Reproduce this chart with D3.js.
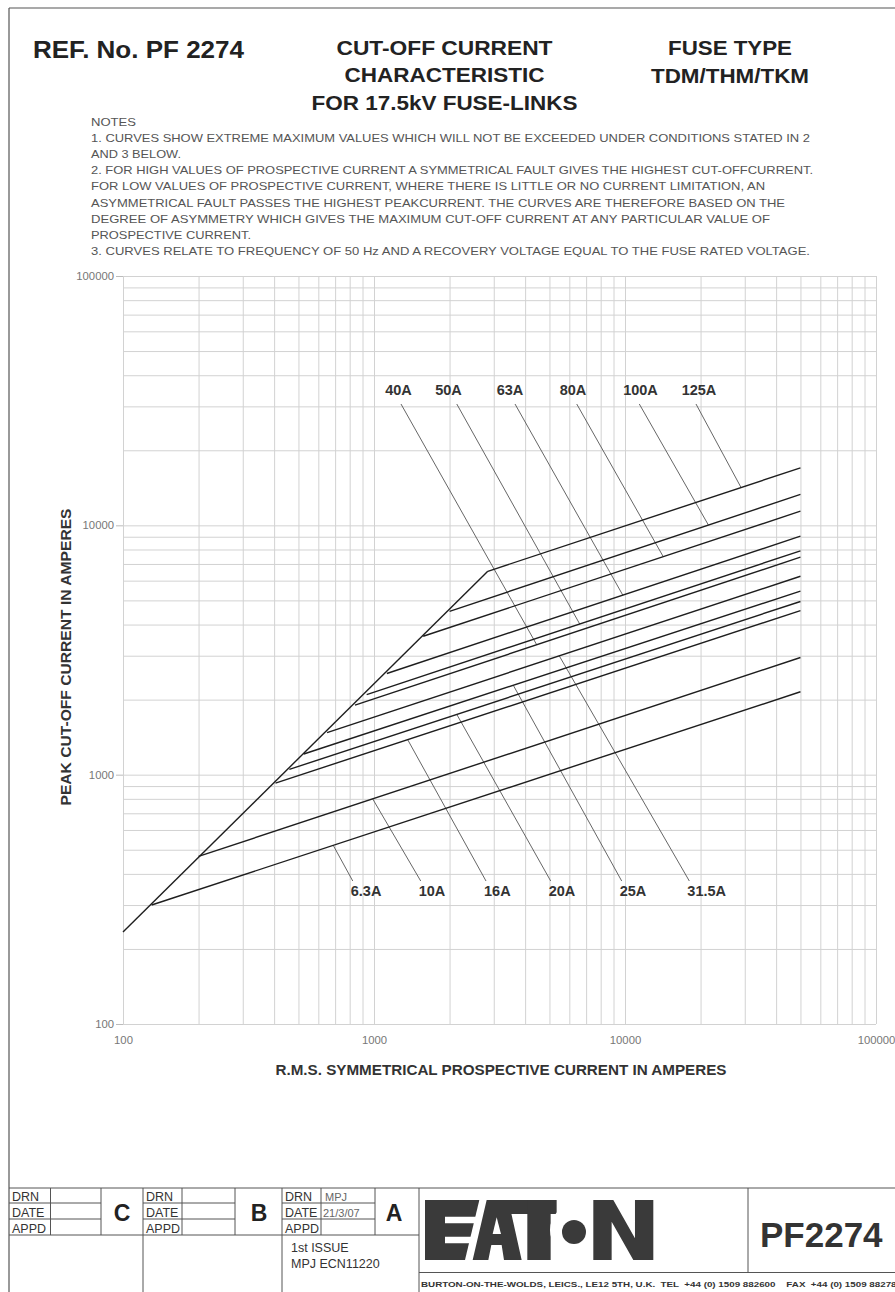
<!DOCTYPE html>
<html>
<head>
<meta charset="utf-8">
<script src="https://cdn.jsdelivr.net/npm/d3@7"></script>
<style>
body { margin: 0; background: #fff; }
text { font-family: "Liberation Sans", Arial, sans-serif; }
</style>
</head>
<body>
<div id="sheet"></div>
<script>
// fuse ratings and the points (amperes)
let ratings = ["6.3A", "10A", "16A", "20A", "25A", "31.5A", "40A", "50A", "63A", "80A", "100A", "125A"];
let breakCurrent = [130, 200, 405, 460, 525, 650, 840, 935, 1125, 1570, 2000, 2840];
let breakPeak = [300, 470, 925, 1050, 1210, 1475, 1900, 2095, 2545, 3590, 4520, 6540];
let endCurrent = 50000;
let endPeak = [2150, 2950, 4550, 4950, 5450, 6250, 7450, 7900, 9050, 11400, 13300, 17000];
let envelopeCurrent = [100, 2840];
let envelopePeak = [234, 6540];

// label leaders: prospective current where the leader leaves the label / meets the curve
let leaderFrom = [823, 1535, 2794, 5058, 9701, 18040, 1281, 2137, 3646, 6422, 11402, 19180];
let leaderTo = [688, 988, 1362, 2137, 3589, 5472, 4450, 6600, 9800, 14200, 21500, 29000];
let topLabelAt = [1252, 1981, 3483, 6206, 11530, 19720];

let xTicks = [100, 1000, 10000, 100000];
let yTicks = [100, 1000, 10000, 100000];

let notes = [
    "NOTES",
    "1. CURVES SHOW EXTREME MAXIMUM VALUES WHICH WILL NOT BE EXCEEDED UNDER CONDITIONS STATED IN 2",
    "AND 3 BELOW.",
    "2. FOR HIGH VALUES OF PROSPECTIVE CURRENT A SYMMETRICAL FAULT GIVES THE HIGHEST CUT-OFFCURRENT.",
    "FOR LOW VALUES OF PROSPECTIVE CURRENT, WHERE THERE IS LITTLE OR NO CURRENT LIMITATION, AN",
    "ASYMMETRICAL FAULT PASSES THE HIGHEST PEAKCURRENT. THE CURVES ARE THEREFORE BASED ON THE",
    "DEGREE OF ASYMMETRY WHICH GIVES THE MAXIMUM CUT-OFF CURRENT AT ANY PARTICULAR VALUE OF",
    "PROSPECTIVE CURRENT.",
    "3. CURVES RELATE TO FREQUENCY OF 50 Hz AND A RECOVERY VOLTAGE EQUAL TO THE FUSE RATED VOLTAGE."
];
let noteWidths = [45, 719, 90, 722, 674, 694, 679, 160, 719];

let W = 895, H = 1292;

let svg = d3.select("#sheet")
    .append("svg")
    .attr("width", W)
    .attr("height", H)
    .style("display", "block");

let x = d3.scaleLog().domain([100, 100000]).range([123, 876]);
let y = d3.scaleLog().domain([100, 100000]).range([1024, 276]);

// log grid values 100..100000
let gridVals = [];
[100, 1000, 10000].forEach(d => {
    for (let k = 1; k < 10; k++) gridVals.push(d * k);
});
gridVals.push(100000);

// frame of the sheet
svg.append("line").attr("x1", 9).attr("y1", 8).attr("x2", W).attr("y2", 8)
    .style("stroke", "#555").style("stroke-width", 1.2);
svg.append("line").attr("x1", 9).attr("y1", 8).attr("x2", 9).attr("y2", H)
    .style("stroke", "#555").style("stroke-width", 1.2);

// headings
let head = svg.append("g").style("font-weight", "bold").style("fill", "#222");
head.append("text").attr("x", 33).attr("y", 58).style("font-size", "23px")
    .attr("textLength", 211).attr("lengthAdjust", "spacingAndGlyphs").text("REF. No. PF 2274");
[["CUT-OFF CURRENT", 54.5, 216], ["CHARACTERISTIC", 82, 200], ["FOR 17.5kV FUSE-LINKS", 110, 266]]
    .forEach(t => {
        head.append("text").attr("x", 444.5).attr("y", t[1]).attr("text-anchor", "middle")
            .style("font-size", "21px").attr("textLength", t[2]).attr("lengthAdjust", "spacingAndGlyphs")
            .text(t[0]);
    });
[["FUSE TYPE", 55, 124], ["TDM/THM/TKM", 83, 158]].forEach(t => {
    head.append("text").attr("x", 730).attr("y", t[1]).attr("text-anchor", "middle")
        .style("font-size", "21px").attr("textLength", t[2]).attr("lengthAdjust", "spacingAndGlyphs")
        .text(t[0]);
});

// notes
svg.append("g").selectAll("text")
    .data(notes)
    .enter()
    .append("text")
    .attr("x", 91)
    .attr("y", (d, i) => 126 + i * 16.1)
    .attr("textLength", (d, i) => noteWidths[i])
    .attr("lengthAdjust", "spacingAndGlyphs")
    .style("font-size", "10.5px")
    .style("fill", "#555")
    .text(d => d);

// grid
let plotW = x.range()[1] - x.range()[0];
let plotH = y.range()[0] - y.range()[1];

svg.append("g")
    .attr("class", "gridx")
    .attr("transform", "translate(0," + y(100) + ")")
    .call(d3.axisBottom(x).tickValues(gridVals).tickSize(-plotH).tickFormat(""))
    .call(g => g.select(".domain").remove());
svg.append("g")
    .attr("class", "gridy")
    .attr("transform", "translate(" + x(100) + ",0)")
    .call(d3.axisLeft(y).tickValues(gridVals).tickSize(-plotW).tickFormat(""))
    .call(g => g.select(".domain").remove());
svg.selectAll(".gridx line, .gridy line")
    .style("stroke", "#d2d2d2")
    .style("stroke-width", 1);

// axes with labels
let fmt = d3.format("d");
let ax = svg.append("g")
    .attr("transform", "translate(0," + y(100) + ")")
    .call(d3.axisBottom(x).tickValues(xTicks).tickSize(0).tickPadding(12).tickFormat(fmt));
ax.select(".domain").remove();
ax.selectAll("text").style("font-size", "11.3px").style("fill", "#777")
    .style("font-family", "'Liberation Sans', Arial, sans-serif");

let ay = svg.append("g")
    .attr("transform", "translate(" + x(100) + ",0)")
    .call(d3.axisLeft(y).tickValues(yTicks).tickSize(7).tickPadding(2).tickFormat(fmt));
ay.select(".domain").remove();
ay.selectAll("line").style("stroke", "#bbb");
ay.selectAll("text").style("font-size", "11.3px").style("fill", "#777")
    .style("font-family", "'Liberation Sans', Arial, sans-serif");

svg.append("text")
    .attr("x", 501).attr("y", 1075)
    .attr("text-anchor", "middle")
    .attr("textLength", 451).attr("lengthAdjust", "spacingAndGlyphs")
    .style("font-size", "14px").style("font-weight", "bold").style("fill", "#333")
    .text("R.M.S. SYMMETRICAL PROSPECTIVE CURRENT IN AMPERES");
svg.append("text")
    .attr("transform", "translate(71,657) rotate(-90)")
    .attr("text-anchor", "middle")
    .attr("textLength", 297).attr("lengthAdjust", "spacingAndGlyphs")
    .style("font-size", "14px").style("font-weight", "bold").style("fill", "#333")
    .text("PEAK CUT-OFF CURRENT IN AMPERES");

// curves
let line = d3.line()
    .x(d => x(d[0]))
    .y(d => y(d[1]));

function peakOn(i, c) {
    let s = Math.log(endPeak[i] / breakPeak[i]) / Math.log(endCurrent / breakCurrent[i]);
    return breakPeak[i] * Math.pow(c / breakCurrent[i], s);
}

// leader lines (thin)
let leaders = svg.append("g").attr("id", "leaders");
ratings.forEach((r, i) => {
    let top = i >= 6;
    let yy = top ? 404 : 881;
    leaders.append("line")
        .attr("x1", x(leaderFrom[i]))
        .attr("y1", yy)
        .attr("x2", x(leaderTo[i]))
        .attr("y2", y(peakOn(i, leaderTo[i])))
        .style("stroke", "#555")
        .style("stroke-width", 0.9);
});

svg.append("path")
    .attr("d", line(envelopeCurrent.map((c, i) => [c, envelopePeak[i]])))
    .style("fill", "none")
    .style("stroke", "#1e1e1e")
    .style("stroke-width", 1.4);

svg.append("g")
    .attr("id", "curves")
    .selectAll("path")
    .data(ratings)
    .enter()
    .append("path")
    .attr("d", (d, i) => line([[breakCurrent[i], breakPeak[i]], [endCurrent, endPeak[i]]]))
    .style("fill", "none")
    .style("stroke", "#1e1e1e")
    .style("stroke-width", 1.4);

// rating labels
let labs = svg.append("g").style("font-weight", "bold").style("font-size", "14.5px").style("fill", "#333");
ratings.forEach((r, i) => {
    if (i >= 6) {
        labs.append("text")
            .attr("x", x(topLabelAt[i - 6]))
            .attr("y", 395)
            .attr("text-anchor", "middle")
            .text(r);
    } else {
        labs.append("text")
            .attr("x", x(leaderFrom[i]) - 2)
            .attr("y", 896)
            .text(r);
    }
});

// title block
let tb = svg.append("g").style("stroke", "#555").style("stroke-width", 1);
let hl = [[9, W, 1188], [9, 419, 1235], [419, W, 1272.5],
          [50.5, 101, 1203], [50.5, 101, 1219], [182, 235, 1203], [182, 235, 1219],
          [321, 375, 1203], [321, 375, 1219],
          [9, 50.5, 1203], [9, 50.5, 1219], [143, 182, 1203], [143, 182, 1219],
          [282, 321, 1203], [282, 321, 1219]];
hl.forEach(l => tb.append("line").attr("x1", l[0]).attr("x2", l[1]).attr("y1", l[2]).attr("y2", l[2]));
let vl = [[50.5, 1188, 1235], [101, 1188, 1235], [143, 1188, H], [182, 1188, 1235], [235, 1188, 1235],
          [282, 1188, H], [321, 1188, 1235], [375, 1188, 1235], [419, 1188, H], [748, 1188, 1272.5]];
vl.forEach(l => tb.append("line").attr("x1", l[0]).attr("x2", l[0]).attr("y1", l[1]).attr("y2", l[2]));

let tbt = svg.append("g").style("fill", "#333");
[12, 146, 285].forEach(x0 => {
    [["DRN", 1201], ["DATE", 1217], ["APPD", 1233]].forEach(t => {
        tbt.append("text").attr("x", x0).attr("y", t[1]).style("font-size", "12.5px").text(t[0]);
    });
});
[["C", 122], ["B", 259], ["A", 394]].forEach(t => {
    tbt.append("text").attr("x", t[1]).attr("y", 1221).attr("text-anchor", "middle")
        .style("font-size", "23px").style("font-weight", "bold").style("fill", "#222").text(t[0]);
});
tbt.append("text").attr("x", 325).attr("y", 1201).style("font-size", "11px").style("fill", "#666").text("MPJ");
tbt.append("text").attr("x", 323).attr("y", 1217).style("font-size", "11px").style("fill", "#666").text("21/3/07");
tbt.append("text").attr("x", 291).attr("y", 1252).style("font-size", "12.5px").text("1st ISSUE");
tbt.append("text").attr("x", 291).attr("y", 1268).style("font-size", "12.5px").text("MPJ ECN11220");
tbt.append("text").attr("x", 760).attr("y", 1247).style("font-size", "35px").style("font-weight", "bold")
    .text("PF2274");
tbt.append("text").attr("x", 421).attr("y", 1287)
    .style("font-size", "8px").style("font-weight", "bold").style("white-space", "pre")
    .attr("textLength", 481).attr("lengthAdjust", "spacingAndGlyphs")
    .text("BURTON-ON-THE-WOLDS, LEICS., LE12 5TH, U.K.  TEL  +44 (0) 1509 882600    FAX  +44 (0) 1509 882780");

// logo, drawn in a 3x local frame
let logo = svg.append("g").attr("transform", "translate(420,1190) scale(0.3333)");
let dark = "#3a3a3a";
let poly = (pts, col) => logo.append("polygon").attr("points", pts.map(p => p.join(",")).join(" ")).style("fill", col);
poly([[15, 30], [178, 30], [135, 210], [15, 210]], dark);
poly([[75, 80], [175, 80], [170, 100], [75, 100]], "#fff");
poly([[75, 140], [160, 140], [155, 160], [75, 160]], "#fff");
poly([[200, 30], [265, 30], [305, 210], [252, 210], [245, 165], [214, 165], [205, 210], [158, 210]], dark);
poly([[230, 82], [243, 132], [218, 132]], "#fff");
poly([[262, 30], [410, 30], [410, 72], [262, 72]], dark);
poly([[322, 30], [392, 30], [392, 210], [322, 210]], dark);
logo.append("circle").attr("cx", 468).attr("cy", 120).attr("r", 78).style("fill", "#fff");
logo.append("circle").attr("cx", 462).attr("cy", 126).attr("r", 36).style("fill", dark);
poly([[520, 30], [580, 30], [645, 145], [645, 30], [700, 30], [700, 210], [640, 210], [575, 95], [575, 210], [520, 210]], dark);
</script>
</body>
</html>
